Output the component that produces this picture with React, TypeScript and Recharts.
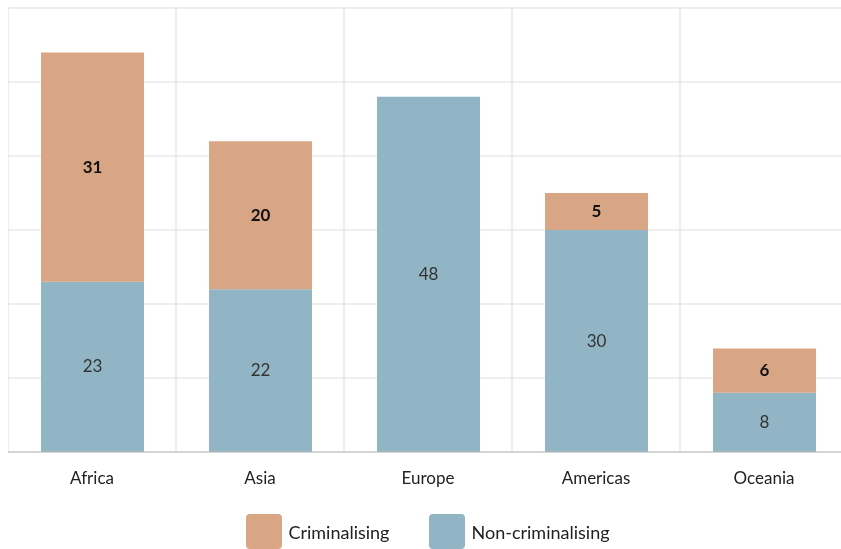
import { BarChart, Bar, XAxis, YAxis, CartesianGrid, Legend, LabelList } from 'recharts';

const regions = ['Africa', 'Asia', 'Europe', 'Americas', 'Oceania'];
const nonCriminalising = [23, 22, 48, 30, 8];
const criminalising: (number | null)[] = [31, 20, null, 5, 6];
const yTicks = [0, 10, 20, 30, 40, 50, 60];

const ORANGE = '#d8a585';
const BLUE = '#91b5c4';

const rows = regions.map((r, i) => ({
  region: r,
  non: nonCriminalising[i],
  crim: criminalising[i],
}));

const CrimLabel = (props: any) => {
  const { x, y, width, height, value } = props;
  if (value == null) return null;
  return (
    <text x={x + width / 2} y={y + height / 2 - 1} textAnchor="middle" dominantBaseline="central"
      fontSize={17} fontWeight={700} fill="#111">{value}</text>
  );
};

const NonLabel = (props: any) => {
  const { x, y, width, height, value } = props;
  if (value == null) return null;
  return (
    <text x={x + width / 2} y={y + height / 2 - 1} textAnchor="middle" dominantBaseline="central"
      fontSize={17} fill="#333">{value}</text>
  );
};

const LegendBox = () => (
  <div style={{ display: 'flex', justifyContent: 'center', alignItems: 'center', fontFamily: 'Lato', fontSize: 18, color: '#222', paddingTop: 22, paddingLeft: 40 }}>
    {[['Criminalising', ORANGE], ['Non-criminalising', BLUE]].map(([name, c]) => (
      <div key={name} style={{ display: 'flex', alignItems: 'center', marginRight: 40 }}>
        <span style={{ width: 36, height: 35, background: c, borderRadius: 4, display: 'inline-block', marginRight: 6 }} />
        <span>{name}</span>
      </div>
    ))}
  </div>
);

export default function App() {
  // fixed box so the wide plot (it runs past the right edge) never gives the page scrollbars
  return (
    <div style={{ position: 'fixed', left: 8, top: 7, width: 833, height: 542, overflow: 'hidden' }}>
      <BarChart width={840} height={542} data={rows} margin={{ top: 1, right: 0, bottom: 0, left: 0 }}
        style={{ fontFamily: 'Lato, sans-serif' }}>
        <CartesianGrid stroke="#dddddd"
          verticalCoordinatesGenerator={({ offset }: any) =>
            regions.map((_, i) => offset.left + (i * offset.width) / regions.length)} />
        <XAxis dataKey="region" tickLine={false} axisLine={{ stroke: '#bbbbbb' }} height={40}
          tick={{ fill: '#222', fontSize: 17 }} tickMargin={14} />
        <YAxis hide domain={[0, 60]} ticks={yTicks} />
        <Legend verticalAlign="bottom" height={57} content={<LegendBox />} />
        <Bar dataKey="non" stackId="a" fill={BLUE} barSize={103} isAnimationActive={false}>
          <LabelList dataKey="non" content={<NonLabel />} />
        </Bar>
        <Bar dataKey="crim" stackId="a" fill={ORANGE} barSize={103} isAnimationActive={false}>
          <LabelList dataKey="crim" content={<CrimLabel />} />
        </Bar>
      </BarChart>
    </div>
  );
}
